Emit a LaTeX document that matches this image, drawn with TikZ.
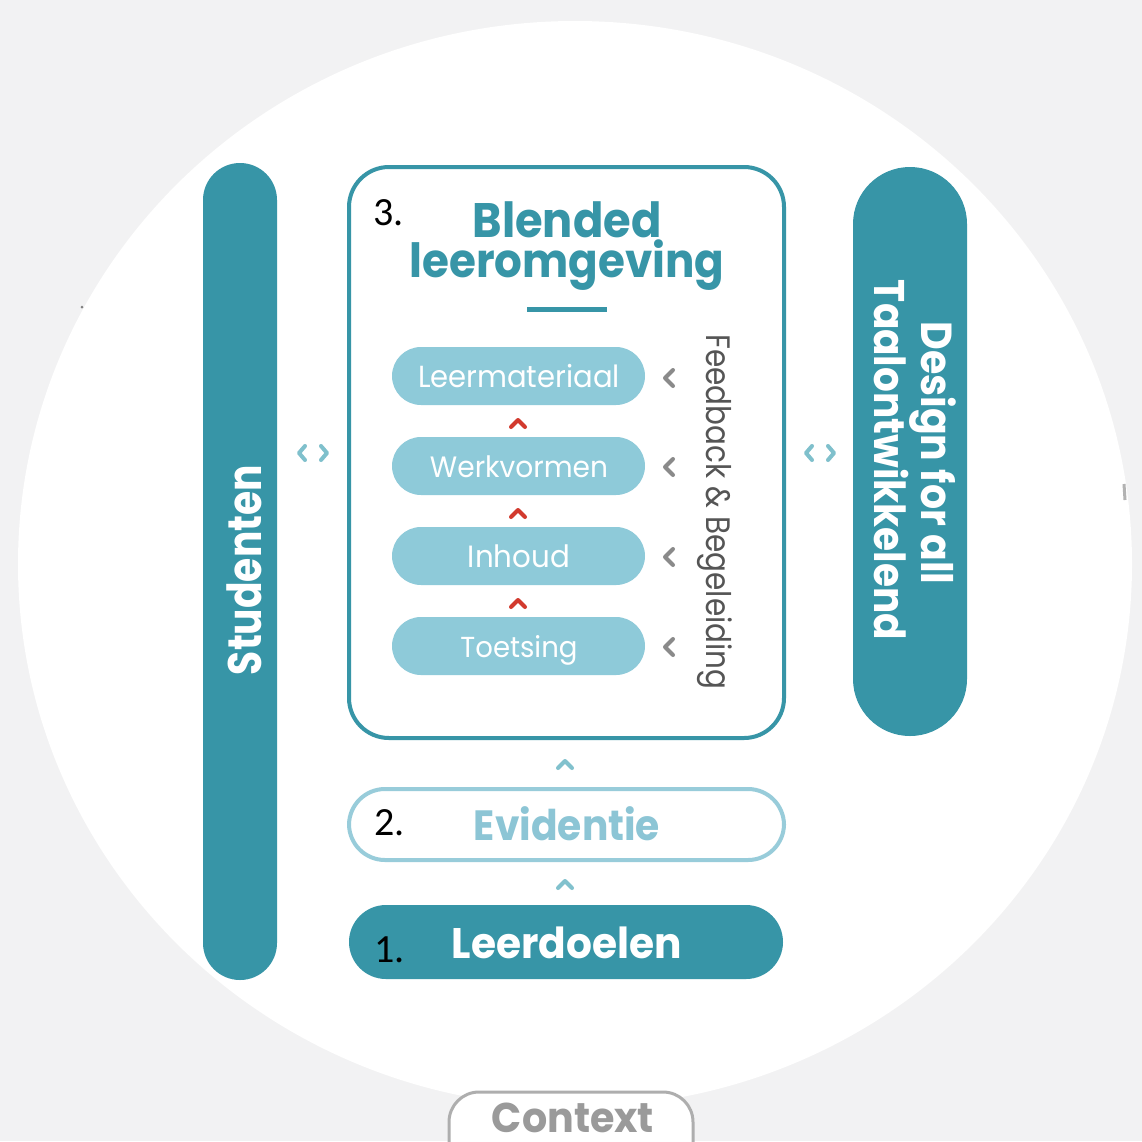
\documentclass[tikz,border=0pt]{standalone}
\usepackage{fontspec}
\setmainfont{Poppins}
\newfontfamily\numfont{Carlito}
\definecolor{cTeal}{HTML}{3795A7}
\definecolor{cPill}{HTML}{8ECAD9}
\definecolor{cEvi}{HTML}{98CCDA}
\definecolor{cEviText}{HTML}{8CC5D5}
\definecolor{cArr}{HTML}{7FC0CC}
\definecolor{cGreyArr}{HTML}{8A8A8A}
\definecolor{cRed}{HTML}{D23A2E}
\definecolor{cBg}{HTML}{F2F2F3}
\definecolor{cCtx}{HTML}{9A9A9A}
\definecolor{cFb}{HTML}{555555}
% width-fitted text, stretched vertically by #1
\newcommand{\fitw}[3][1]{\scalebox{1}[#1]{\resizebox{#2}{!}{#3}}}
\begin{document}
\begin{tikzpicture}[x=1pt,y=-1pt,
  chev/.style={line width=4pt, line cap=round, line join=round},
  pillbox/.style={fill=cPill, rounded corners=29pt},
  pilltext/.style={anchor=base, text=white, inner sep=0pt},
  bigtext/.style={anchor=base, inner sep=0pt},
  numtext/.style={anchor=base west, inner sep=0pt, font=\numfont\fontsize{40}{40}\selectfont}]
\useasboundingbox (0,0) rectangle (1142,1141);
\clip (0,0) rectangle (1142,1141);
% background
\fill[cBg] (0,0) rectangle (1142,1141);
\fill[white] (575,564) ellipse [x radius=557pt, y radius=543pt];
\fill[gray] (82,307) circle (1.5pt);
\draw[gray!60, line width=3pt] (1124,484) -- (1125,500);

% Studenten bar
\fill[cTeal, rounded corners=37pt] (203,163) rectangle (277,980);
\node[bigtext, rotate=90, text=white] (stud) at (261,570) {\fitw[1.2]{210pt}{\bfseries Studenten}};

% Design for all bar
\fill[cTeal, rounded corners=57pt] (853,167) rectangle (967,736);
\node[bigtext, rotate=-90, text=white] (design) at (921,453) {\fitw[1.1]{263pt}{\bfseries Design for all}};
\node[bigtext, rotate=-90, text=white] (taal) at (874,460) {\fitw[1.1]{360pt}{\bfseries Taalontwikkelend}};

% main box
\draw[cTeal, line width=4pt, fill=white, rounded corners=40pt] (349,167) rectangle (784,738);
\node[numtext] (n3) at (373,225) {3.};
\node[bigtext, text=cTeal] (blended) at (567,237) {\fitw[1.08]{189pt}{\bfseries Blended}};
\node[bigtext, text=cTeal] (leer) at (567,277) {\fitw[1.08]{315pt}{\bfseries leeromgeving}};
\draw[cTeal, line width=5pt] (527,309) -- (607,309);

% pills
\fill[pillbox] (392,347) rectangle (645,405);
\fill[pillbox] (392,437) rectangle (645,495);
\fill[pillbox] (392,527) rectangle (645,585);
\fill[pillbox] (392,617) rectangle (645,675);
\node[pilltext] (p1) at (519,387) {\fitw[1.05]{202pt}{Leermateriaal}};
\node[pilltext] (p2) at (519,477) {\fitw[1.05]{178pt}{Werkvormen}};
\node[pilltext] (p3) at (519,567) {\fitw[1.05]{102pt}{Inhoud}};
\node[pilltext] (p4) at (519,657) {\fitw[1.05]{117pt}{Toetsing}};

% red chevrons
\foreach \y in {424,514,604}
  \draw[chev, cRed] (511,\y+3) -- (518,\y-4) -- (525,\y+3);
% grey chevrons
\foreach \y in {378,467,557,647}
  \draw[chev, cGreyArr] (673,\y-8) -- (665,\y) -- (673,\y+8);

\node[bigtext, rotate=-90, text=cFb] (fb) at (706,512) {\fitw[1.15]{355pt}{Feedback \& Begeleiding}};

% side chevrons
\draw[chev, cArr] (305,446) -- (299,453) -- (305,460);
\draw[chev, cArr] (321,446) -- (327,453) -- (321,460);
\draw[chev, cArr] (812,446) -- (806,453) -- (812,460);
\draw[chev, cArr] (828,446) -- (834,453) -- (828,460);

% up chevrons below box
\draw[chev, cArr!90!cPill] (558,768) -- (565,761) -- (572,768);
\draw[chev, cArr!90!cPill] (558,888) -- (565,881) -- (572,888);

% Evidentie
\draw[cEvi, line width=4pt, fill=white, rounded corners=36pt] (349,789) rectangle (784,860);
\node[numtext] (n2) at (374,835) {2.};
\node[bigtext, text=cEviText] (evi) at (567,840) {\fitw[1.08]{186pt}{\bfseries Evidentie}};

% Leerdoelen
\fill[cTeal, rounded corners=37pt] (349,905) rectangle (783,979);
\node[numtext] (n1) at (374,962) {1.};
\node[bigtext, text=white] (doel) at (567,958) {\fitw[1.05]{230pt}{\bfseries Leerdoelen}};

% Context
\draw[cCtx!80, line width=3pt, fill=white, rounded corners=30pt] (449,1092) rectangle (693,1190);
\node[bigtext, text=cCtx] (ctx) at (573,1132) {\fitw[1.05]{162pt}{\bfseries Context}};
\end{tikzpicture}
\end{document}
